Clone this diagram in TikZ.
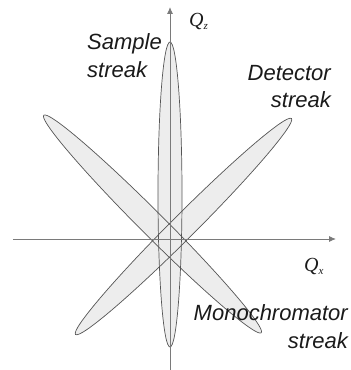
\documentclass[tikz,border=0pt]{standalone}
\usepackage{fontspec}
\setmainfont{Liberation Sans}
\newfontfamily\qfont{Liberation Serif}
\usetikzlibrary{arrows.meta}
\definecolor{streakfill}{HTML}{EDEDED}
\definecolor{streakline}{HTML}{555555}
\definecolor{axisline}{HTML}{7A7A7A}
\definecolor{labeltext}{HTML}{1A1A1A}
\newcommand{\qaxis}[1]{{\qfont\itshape Q\raisebox{-3pt}{\fontsize{11}{11}\selectfont #1}}}

\begin{document}
\begin{tikzpicture}[x=1pt, y=1pt,
  axis/.style={draw=axisline, line width=0.9pt, -{Latex[length=7pt,width=6pt]}},
  streakarea/.style={fill=streakfill},
  streakedge/.style={draw=streakline, line width=0.7pt},
  lbl/.style={inner sep=0pt, text=labeltext, font=\fontsize{22}{28}\selectfont\itshape},
  qlbl/.style={inner sep=0pt, text=labeltext, font=\fontsize{20}{20}\selectfont}]
  \useasboundingbox (-170,-131) rectangle (181,239);

  % streaks: centre x / centre y / long half axis / rotation
  \foreach \cx/\cy/\len/\rot in {0/44.5/152.5/0, 13.5/12.5/152.7/-45, -17.5/15/153.8/45}
    \fill[streakarea, rotate around={\rot:(\cx,\cy)}] (\cx,\cy) ellipse [x radius=12, y radius=\len];
  \foreach \cx/\cy/\len/\rot in {0/44.5/152.5/0, 13.5/12.5/152.7/-45, -17.5/15/153.8/45}
    \draw[streakedge, rotate around={\rot:(\cx,\cy)}] (\cx,\cy) ellipse [x radius=12, y radius=\len];

  % axes
  \coordinate (origin) at (0,0);
  \coordinate (qz_end) at (0,232);
  \coordinate (qz_start) at (0,-131);
  \coordinate (qx_end) at (166,0);
  \coordinate (qx_start) at (-157,0);
  \draw[axis] (qz_start) -- (qz_end);
  \draw[axis] (qx_start) -- (qx_end);

  \node[qlbl, anchor=base west] (qz) at (19,212) {\qaxis{z}};
  \node[qlbl, anchor=base west] (qx) at (134,-32) {\qaxis{x}};

  % base anchor sits on the last line
  \node[lbl, align=left, anchor=base west] (sample) at (-83,161) {Sample\\streak};
  \node[lbl, align=right, anchor=base east] (detector) at (161,131) {Detector\\streak};
  \node[lbl, align=right, anchor=base east] (mono) at (178,-109) {Monochromator\\streak};
\end{tikzpicture}
\end{document}
